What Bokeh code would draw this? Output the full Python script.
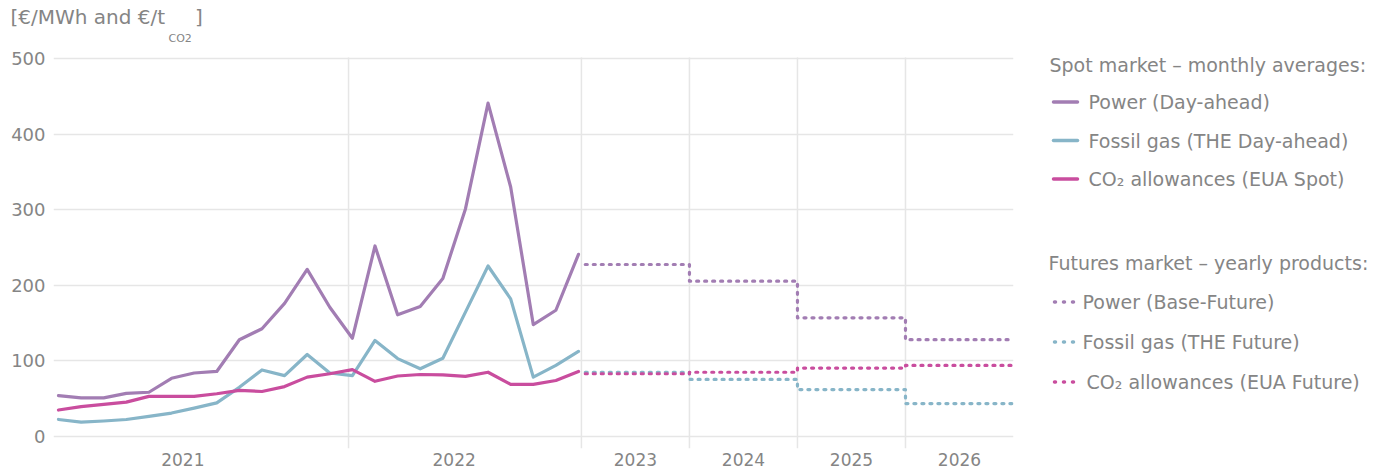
from bokeh.plotting import figure
from bokeh.models import Range1d, FixedTicker, Title
from bokeh.layouts import row
from bokeh.embed import file_html
from bokeh.resources import INLINE
from bokeh.core.properties import value

# ---------------- data ----------------
months = [f"{y}-{m:02d}" for y in (2021, 2022) for m in range(1, 13)]
spot_power = [54, 51, 51, 57, 58.5, 77, 84, 86, 128, 142.5, 176, 221,
              171, 130, 252, 161, 172, 209, 301, 441, 330, 148, 167, 241]
spot_gas = [22.5, 19, 20.5, 22.5, 26.5, 31, 37.5, 44.5, 65, 88, 80.5, 108.5,
            84, 80.5, 127, 103, 89.5, 103.5, 164.5, 225.5, 182, 78.5, 94, 112.5]
spot_co2 = [35, 39.5, 42.5, 45.5, 53, 53, 53, 56.5, 61, 59.5, 66, 78.5,
            83, 88.5, 73, 80, 82, 81.5, 79.5, 85, 69, 69, 74, 86]
spot_years = ["2021", "2022"]
future_years = ["2023", "2024", "2025", "2026"]
fut_power = [227.5, 205.5, 157, 128]
fut_gas = [85, 75.5, 62, 43.5]
fut_co2 = [83, 85, 90.5, 94]
y_ticks = [0, 100, 200, 300, 400, 500]

# ---------------- style ----------------
C_POWER = "#a27db3"
C_GAS = "#87b5c8"
C_CO2 = "#c94d9e"
GRAY = "#858585"
GRID = "#e6e6e6"
FONT = "DejaVu Sans"

# x layout: months at 0..23, futures years as equal blocks after
FUT_START = 23.13
FUT_W = 4.7775
FUT_LINE_START = 23.3
MONTH_GRID = 12.83
PX_PER_X = 22.61          # pixels per month unit
PX_PER_Y = 0.7557         # pixels per y unit
Y_LO, Y_GRID_TOP = -15.9, 501.3
FRAME_TOP = 30            # frame extends above the value area to host the unit subscript
Y_HI = 500 + (58 - FRAME_TOP) / PX_PER_Y

x_months = list(range(len(months)))
label_pos = [5.5, 17.5] + [FUT_START + (k + 0.5) * FUT_W for k in range(len(future_years))]
label_txt = spot_years + future_years
grid_x = [MONTH_GRID] + [FUT_START + k * FUT_W for k in range(len(future_years))]
x_end = FUT_START + len(future_years) * FUT_W

W1, H = 1018, 468
p = figure(width=W1, height=H, x_range=Range1d(-0.22, x_end),
           y_range=Range1d(Y_LO, Y_HI), output_backend="svg", toolbar_location=None,
           min_border_left=53, min_border_right=5, min_border_top=FRAME_TOP, min_border_bottom=20)
p.outline_line_color = None
p.background_fill_color = "white"
p.border_fill_color = "white"
p.title.visible = False

p.yaxis.ticker = FixedTicker(ticks=y_ticks)
p.xaxis.ticker = FixedTicker(ticks=label_pos)
p.xaxis.major_label_overrides = {pos: t for pos, t in zip(label_pos, label_txt)}
for ax in (p.xaxis, p.yaxis):
    ax.axis_line_color = None
    ax.major_tick_line_color = None
    ax.minor_tick_line_color = None
    ax.major_tick_out = 0
    ax.major_tick_in = 0
    ax.minor_tick_out = 0
    ax.major_label_text_font = FONT
    ax.major_label_text_color = GRAY
p.yaxis.major_label_text_font_size = "18px"
p.yaxis.major_label_standoff = 8
p.xaxis.major_label_text_font_size = "17px"
p.xaxis.major_label_standoff = 4

p.xgrid.visible = False
p.ygrid.ticker = FixedTicker(ticks=y_ticks)
p.ygrid.grid_line_color = GRID
p.ygrid.grid_line_width = 1.5
# vertical guide lines, limited to the value area
p.segment(x0=grid_x, y0=[Y_LO] * len(grid_x), x1=grid_x, y1=[Y_GRID_TOP] * len(grid_x),
          line_color=GRID, line_width=1.5, level="underlay")

# spot lines
for vals, col in ((spot_power, C_POWER), (spot_gas, C_GAS), (spot_co2, C_CO2)):
    p.line(x_months, vals, line_color=col, line_width=3.2, line_join="round", line_cap="round")

# futures step lines
def step_path(vals):
    xs, ys = [], []
    for k, v in enumerate(vals):
        x0 = FUT_LINE_START if k == 0 else FUT_START + k * FUT_W
        x1 = FUT_START + (k + 1) * FUT_W
        xs += [x0, x1]
        ys += [v, v]
    return xs, ys

for vals, col in ((fut_gas, C_GAS), (fut_co2, C_CO2), (fut_power, C_POWER)):
    xs, ys = step_path(vals)
    p.line(xs, ys, line_color=col, line_width=3.2, line_dash="2 6", line_cap="round",
           line_join="round")

# y unit title: main part as a title (pushed down by a tiny spacer title),
# subscript as text inside the (extended) frame
FRAME_LEFT = 53
t_main = Title(text="[€/MWh and €/t\u2003\u2002]", text_font=FONT, text_font_size="20px",
               text_font_style="normal", text_color=GRAY, align="left", vertical_align="top",
               offset=10 - FRAME_LEFT, standoff=0)
t_space = Title(text=" ", text_font=FONT, text_font_size="2px", text_font_style="normal",
                text_color="white", align="left", vertical_align="top", standoff=0)
p.add_layout(t_main, "above")
p.add_layout(t_space, "above")
sub_x = (168 - 58) / PX_PER_X
sub_y = (436 - 38.5) / PX_PER_Y
p.text(x=[sub_x], y=[sub_y], text=["CO2"], text_font=value(FONT), text_font_size="11px",
       text_color=GRAY, text_baseline="alphabetic", text_align="left")

# ---------------- legend panel (data units == page pixels) ----------------
W2 = 1388 - W1
lg = figure(width=W2, height=H, x_range=Range1d(W1, 1388), y_range=Range1d(448, FRAME_TOP),
            output_backend="svg", toolbar_location=None, min_border_left=0, min_border_right=0,
            min_border_top=FRAME_TOP, min_border_bottom=20,
            x_axis_type=None, y_axis_type=None)
lg.outline_line_color = None
lg.grid.visible = False

spot_labels = ["Power (Day-ahead)", "Fossil gas (THE Day-ahead)", "CO\u2082 allowances (EUA Spot)"]
fut_labels = ["Power (Base-Future)", "Fossil gas (THE Future)", "CO\u2082 allowances (EUA Future)"]
cols = [C_POWER, C_GAS, C_CO2]
spot_rows = [101.5, 140, 178.5]
fut_rows = [301.5, 341.5, 381.5]

lg.text(x=[1049, 1048], y=[64, 262],
        text=["Spot market \u2013 monthly averages:", "Futures market \u2013 yearly products:"],
        text_font=value(FONT), text_font_size="19px", text_color=GRAY, text_baseline="middle")
lg.text(x=[1088] * 3, y=spot_rows, text=spot_labels, text_font=value(FONT),
        text_font_size="19px", text_color=GRAY, text_baseline="middle")
lg.text(x=[1082, 1082, 1086], y=fut_rows, text=fut_labels, text_font=value(FONT),
        text_font_size="19px", text_color=GRAY, text_baseline="middle")
for yy, col in zip(spot_rows, cols):
    lg.line([1053, 1077], [yy, yy], line_color=col, line_width=3.5, line_cap="round")
for yy, col in zip(fut_rows, cols):
    lg.line([1054, 1073], [yy, yy], line_color=col, line_width=3.5, line_cap="round",
            line_dash="1 8")

layout = row(p, lg)
open("out.html", "w").write(file_html(layout, INLINE))
